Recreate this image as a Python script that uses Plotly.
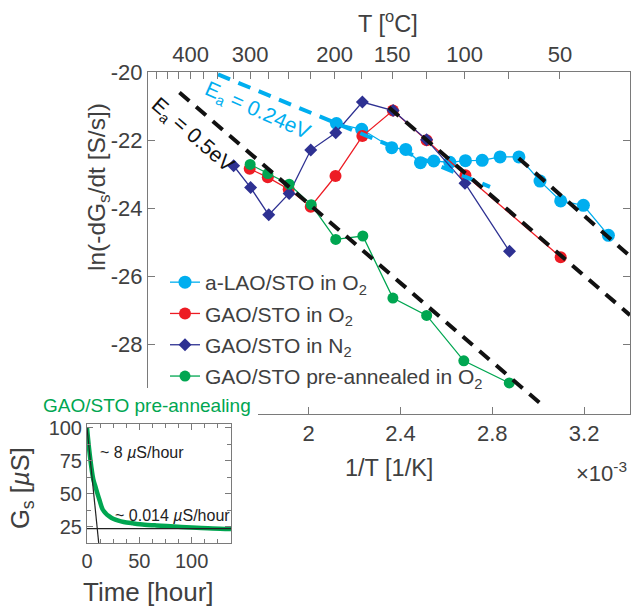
import plotly.graph_objects as go

W, H = 632, 614

# ---------------- main data: x = 1/T (units of 1e-3 1/K), y = ln(-dGs/dt) ----------------
lao_x = [2.121, 2.231, 2.362, 2.423, 2.487, 2.545, 2.615, 2.683, 2.756, 2.834, 2.916, 3.008, 3.098, 3.197, 3.306]
lao_y = [-21.51, -21.68, -22.22, -22.27, -22.66, -22.61, -22.65, -22.60, -22.59, -22.49, -22.49, -23.20, -23.78, -23.91, -24.79]

gao_o2_x = [1.743, 1.822, 1.913, 2.009, 2.117, 2.234, 2.367, 2.514, 2.683, 3.098]
gao_o2_y = [-22.84, -23.09, -23.44, -23.95, -23.05, -21.88, -21.13, -22.00, -23.03, -25.43]

gao_n2_x = [1.673, 1.747, 1.826, 1.915, 2.009, 2.118, 2.234, 2.368, 2.514, 2.681, 2.875]
gao_n2_y = [-22.75, -23.39, -24.19, -23.56, -22.29, -21.78, -20.88, -21.13, -21.99, -23.26, -25.26]

gao_pre_x = [1.745, 1.822, 1.915, 2.011, 2.118, 2.236, 2.367, 2.514, 2.676, 2.874]
gao_pre_y = [-22.71, -22.98, -23.29, -23.89, -24.91, -24.81, -26.63, -27.14, -28.47, -29.12]

# Arrhenius guide lines (end points)
fit024_x = [1.605, 2.790]
fit024_y = [-20.07, -23.37]
fit05a_x = [1.437, 3.030]
fit05a_y = [-20.60, -29.84]
fit05b_x = [2.350, 3.400]
fit05b_y = [-21.04, -27.13]
fit05c_x = [2.915, 3.400]
fit05c_y = [-22.53, -25.40]

# axes ticks
bottom_ticks = [2.0, 2.4, 2.8, 3.2]
bottom_labels = ["2", "2.4", "2.8", "3.2"]
y_ticks = [-28, -26, -24, -22, -20]
y_labels = ["-28", "-26", "-24", "-22", "-20"]
top_temps = [475, 450, 425, 400, 375, 350, 325, 300, 275, 250, 225, 200, 175, 150, 125, 100, 75, 50]
top_labelled = [400, 300, 200, 150, 100, 50]

# ---------------- inset data ----------------
inset_t = [0, 2, 4, 6, 8, 10, 12, 15, 18, 21, 25, 30, 35, 44, 55, 65, 76, 90, 105, 120, 137.6]
inset_g = [100, 84, 71, 61, 55.5, 50, 45, 38, 35, 33, 31, 29.5, 28.5, 27.5, 26.5, 26, 25.5, 24.8, 24.2, 23.6, 23.2]
tan1_t = [0, 11.2]
tan1_g = [100, 12.6]
tan2_t = [0, 137.6]
tan2_g = [23.5, 23.5]

C_LAO = "#00AEEF"
C_RED = "#ED1C24"
C_NAV = "#2E3192"
C_GRN = "#00A651"
TXT = "#404040"
AX = "#7a7a7a"
FONT = "Liberation Sans, Arial, Helvetica, sans-serif"

fig = go.Figure()

def data_trace(x, y, name, color, symbol, size):
    fig.add_trace(go.Scatter(
        x=x, y=y, name=name, mode="lines+markers", legendgroup=name,
        line=dict(color=color, width=1.3),
        marker=dict(color=color, symbol=symbol, size=size, line=dict(width=0)),
        xaxis="x", yaxis="y"))

data_trace(lao_x, lao_y, "a-LAO/STO in O<sub>2</sub>", C_LAO, "circle", 13)
data_trace(gao_o2_x, gao_o2_y, "GAO/STO in O<sub>2</sub>", C_RED, "circle", 12)
data_trace(gao_n2_x, gao_n2_y, "GAO/STO in N<sub>2</sub>", C_NAV, "diamond", 10)
data_trace(gao_pre_x, gao_pre_y, "GAO/STO pre-annealed in O<sub>2</sub>", C_GRN, "circle", 11)

def fit_trace(x, y, color):
    fig.add_trace(go.Scatter(
        x=x, y=y, mode="lines", showlegend=False, hoverinfo="skip",
        line=dict(color=color, width=4, dash="13px,9px"),
        xaxis="x", yaxis="y"))

fit_trace(fit024_x, fit024_y, C_LAO)
fit_trace(fit05a_x, fit05a_y, "#111111")
fit_trace(fit05b_x, fit05b_y, "#111111")
fit_trace(fit05c_x, fit05c_y, "#111111")

# invisible trace to activate the top (temperature) axis
fig.add_trace(go.Scatter(x=[1.3, 3.4], y=[-25, -25], mode="markers", marker=dict(opacity=0),
                         showlegend=False, hoverinfo="skip", xaxis="x2", yaxis="y"))

# inset
fig.add_trace(go.Scatter(x=inset_t, y=inset_g, mode="lines", showlegend=False,
                         line=dict(color=C_GRN, width=4.5, shape="spline"), xaxis="x3", yaxis="y3"))
fig.add_trace(go.Scatter(x=tan1_t, y=tan1_g, mode="lines", showlegend=False,
                         line=dict(color="#222222", width=1.2), xaxis="x3", yaxis="y3"))
fig.add_trace(go.Scatter(x=tan2_t, y=tan2_g, mode="lines", showlegend=False,
                         line=dict(color="#222222", width=1.2), xaxis="x3", yaxis="y3"))

top_vals = [1000.0 / (t + 273.15) for t in top_temps]
top_text = [str(t) if t in top_labelled else "" for t in top_temps]

def px(x):
    return x / W

def py(y):
    return 1 - y / H

main_xdom = [px(148), px(630)]
main_ydom = [py(414), py(72)]

axis_common = dict(showline=True, linecolor=AX, linewidth=1, ticks="inside", ticklen=7,
                   tickcolor=AX, showgrid=False, zeroline=False, automargin=False,
                   tickfont=dict(size=22, color=TXT, family=FONT))
inset_common = dict(showline=True, linecolor=AX, linewidth=1, ticks="inside", ticklen=6,
                    tickcolor=AX, showgrid=False, zeroline=False, automargin=False, mirror="ticks",
                    minor=dict(dtick=12.5, ticks="inside", ticklen=4, tickcolor=AX),
                    tickfont=dict(size=20, color=TXT, family=FONT))

fig.update_layout(
    width=W, height=H, autosize=False,
    margin=dict(l=0, r=0, t=0, b=0, pad=0, autoexpand=False),
    paper_bgcolor="white", plot_bgcolor="rgba(0,0,0,0)",
    font=dict(family=FONT, color=TXT),
    xaxis=dict(domain=main_xdom, range=[1.3, 3.4], anchor="y",
               tickmode="array", tickvals=bottom_ticks, ticktext=bottom_labels, **axis_common),
    xaxis2=dict(domain=main_xdom, range=[1.3, 3.4], anchor="y", overlaying="x", side="top",
                tickmode="array", tickvals=top_vals, ticktext=top_text, **axis_common),
    yaxis=dict(domain=main_ydom, range=[-30.03, -20], anchor="x", mirror="ticks",
               tickmode="array", tickvals=y_ticks, ticktext=y_labels, **axis_common),
    xaxis3=dict(domain=[px(87), px(231)], range=[0, 137.6], anchor="y3",
                tickmode="array", tickvals=[0, 50, 100], **inset_common),
    yaxis3=dict(domain=[py(543), py(424)], range=[12.6, 102.8], anchor="x3",
                tickmode="array", tickvals=[25, 50, 75, 100], **inset_common),
    legend=dict(x=px(165), y=py(262), xanchor="left", yanchor="top",
                bgcolor="rgba(0,0,0,0)", font=dict(size=21, color=TXT, family=FONT),
                tracegroupgap=1),
    showlegend=True,
)

# white cover for the inset title area
fig.add_shape(type="rect", xref="paper", yref="paper", x0=0, x1=px(258), y0=py(420), y1=py(388),
              fillcolor="white", line=dict(width=0), layer="above")

def ann(text, x, y, size, color=TXT, angle=0, xanchor="center"):
    fig.add_annotation(text=text, x=px(x), y=py(y), xref="paper", yref="paper",
                       showarrow=False, textangle=angle, xanchor=xanchor, yanchor="middle",
                       font=dict(size=size, color=color, family=FONT))

ann("E<sub>a</sub> = 0.24eV", 257, 111, 21, C_LAO, 24)
ann("E<sub>a</sub> = 0.5eV", 192, 135, 21, "#111111", 41)
ann("ln(-dG<sub>s</sub>/dt [S/s])", 98, 187, 24.5, TXT, -90)
ann("T [<sup>o</sup>C]", 388, 22, 23.5)
ann("1/T [1/K]", 389, 468, 23.5)
ann("×10<sup>-3</sup>", 601, 472, 22)
ann("GAO/STO pre-annealing", 147, 405, 19, C_GRN)
ann("G<sub>s</sub> [<i>µ</i>S]", 22, 488, 25.5, TXT, -90)
ann("Time [hour]", 148, 592, 26)
ann("~ 8 <i>µ</i>S/hour", 98, 452, 16, "#222222", 0, "left")
ann("~ 0.014 <i>µ</i>S/hour", 113, 515, 16, "#222222", 0, "left")

fig.write_html("out.html", config={"displayModeBar": False},
               post_script="document.body.style.margin='0px';")
